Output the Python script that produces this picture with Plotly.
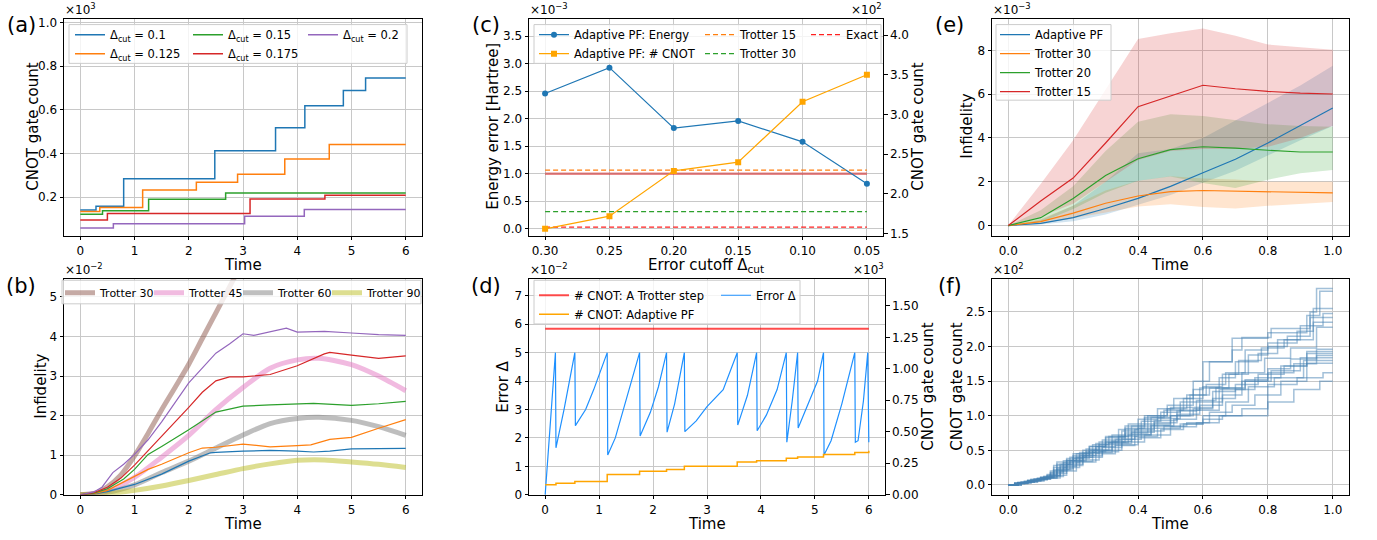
import plotly.graph_objects as go

W, H = 1377, 540
FONT = "DejaVu Sans"


def X(p):
    return p / W


def Y(p):
    return 1 - p / H


TAB = dict(blue='#1f77b4', orange='#ff7f0e', green='#2ca02c', red='#d62728',
           purple='#9467bd', brown='#8c564b', pink='#e377c2', gray='#7f7f7f',
           olive='#bcbd22')

# ---------------- (a) CNOT count vs time for several cutoffs (x10^3) ----------------
a_cutoffs = ["0.1", "0.125", "0.15", "0.175", "0.2"]
a_time = [
    [0, 0.29, 0.8, 2.48, 3.6, 4.14, 4.85, 5.26, 6.0],
    [0, 0.36, 1.15, 2.14, 2.9, 3.77, 4.59, 6.0],
    [0, 0.41, 1.26, 2.68, 6.0],
    [0, 0.5, 3.13, 4.51, 6.0],
    [0, 0.61, 3.03, 4.13, 6.0],
]
a_cnot = [
    [0.141, 0.159, 0.284, 0.413, 0.518, 0.619, 0.689, 0.746, 0.746],
    [0.134, 0.153, 0.233, 0.269, 0.305, 0.375, 0.441, 0.441],
    [0.122, 0.138, 0.191, 0.219, 0.219],
    [0.095, 0.125, 0.192, 0.209, 0.209],
    [0.059, 0.078, 0.113, 0.144, 0.144],
]

# ---------------- (b) infidelity vs time (x10^-2) ----------------
b_trot_names = ["Trotter 30", "Trotter 45", "Trotter 60", "Trotter 90"]
b_trot_time = [
    [0, 0.25, 0.5, 0.75, 1.0, 1.25, 1.5, 1.75, 2.0, 2.25, 2.5, 2.75, 3.0],
    [0, 0.5, 1.0, 1.5, 2.0, 2.5, 3.0, 3.5, 4.0, 4.4, 5.0, 5.5, 6.0],
    [0, 0.5, 1.0, 1.5, 2.0, 2.5, 3.0, 3.5, 4.0, 4.4, 5.0, 5.5, 6.0],
    [0, 0.5, 1.0, 1.5, 2.0, 2.5, 3.0, 3.5, 4.0, 4.5, 5.0, 5.5, 6.0],
]
b_trot_infid = [
    [0, 0.03, 0.2, 0.5, 0.98, 1.55, 2.15, 2.72, 3.3, 3.95, 4.6, 5.25, 5.9],
    [0, 0.1, 0.44, 0.95, 1.5, 2.15, 2.71, 3.2, 3.41, 3.45, 3.29, 3.0, 2.63],
    [0, 0.06, 0.25, 0.56, 0.85, 1.18, 1.51, 1.80, 1.93, 1.96, 1.88, 1.72, 1.50],
    [0, 0.03, 0.11, 0.22, 0.36, 0.51, 0.66, 0.78, 0.87, 0.88, 0.83, 0.77, 0.69],
]
b_adapt_time = [
    [0, 0.25, 0.5, 1.0, 1.5, 2.0, 2.4, 2.5, 3.0, 3.5, 4.0, 4.3, 4.6, 5.0, 6.0],
    [0, 0.25, 0.5, 1.0, 1.25, 1.5, 2.0, 2.25, 2.5, 3.0, 3.5, 4.0, 4.25, 4.6, 5.0, 5.5, 6.0],
    [0, 0.25, 0.5, 0.8, 1.0, 1.25, 1.5, 2.0, 2.5, 3.0, 3.5, 4.0, 4.3, 5.0, 5.5, 6.0],
    [0, 0.25, 0.5, 0.75, 1.0, 1.5, 2.0, 2.25, 2.5, 2.75, 3.0, 3.5, 4.0, 4.5, 4.6, 5.0, 5.5, 6.0],
    [0, 0.25, 0.4, 0.6, 0.8, 1.0, 1.25, 1.5, 2.0, 2.5, 2.75, 3.0, 3.2, 3.5, 3.8, 4.0, 4.5, 5.0, 5.5, 6.0],
]
b_adapt_infid = [
    [0, 0.02, 0.08, 0.26, 0.52, 0.85, 1.06, 1.07, 1.1, 1.12, 1.1, 1.08, 1.1, 1.16, 1.17],
    [0, 0.03, 0.11, 0.45, 0.64, 0.77, 1.06, 1.18, 1.2, 1.28, 1.21, 1.24, 1.26, 1.4, 1.45, 1.68, 1.9],
    [0, 0.04, 0.15, 0.40, 0.64, 1.02, 1.22, 1.64, 2.09, 2.24, 2.27, 2.29, 2.31, 2.26, 2.3, 2.36],
    [0, 0.05, 0.19, 0.42, 0.75, 1.47, 2.21, 2.59, 2.88, 2.98, 2.98, 3.04, 3.26, 3.56, 3.6, 3.53, 3.45, 3.51],
    [0, 0.07, 0.19, 0.56, 0.77, 1.02, 1.39, 1.84, 2.83, 3.58, 3.81, 4.07, 4.03, 4.12, 4.21, 4.11, 4.13, 4.09, 4.05, 4.03],
]

# ---------------- (c) energy error & CNOT vs cutoff ----------------
c_cutoff = [0.30, 0.25, 0.20, 0.15, 0.10, 0.05]
c_energy = [2.46, 2.93, 1.83, 1.96, 1.58, 0.82]        # x10^-3 Hartree
c_cnot = [1.56, 1.72, 2.29, 2.40, 3.16, 3.50]          # x10^2
c_trotter15 = 1.065
c_trotter30 = 0.31
c_exact = 0.03
c_accuracy = 1.0

# ---------------- (d) error and CNOT along time ----------------
d_err_time = [0, 0.1, 0.19,
              0.2, 0.35, 0.55,
              0.56, 0.75, 0.9, 1.15,
              1.16, 1.3, 1.46, 1.6, 1.75,
              1.76, 1.95, 2.1, 2.25,
              2.26, 2.4, 2.58,
              2.59, 2.8, 3.0, 3.3, 3.56,
              3.57, 3.75, 3.92,
              3.93, 4.1, 4.3, 4.47,
              4.48, 4.58, 4.68,
              4.69, 4.9, 5.05, 5.16,
              5.17, 5.3, 5.5, 5.74,
              5.75, 5.8, 5.9, 5.98,
              6.0]
d_err_value = [0, 2.7, 5.0,
               1.65, 3.0, 5.0,
               2.43, 3.0, 3.7, 5.0,
               1.4, 2.0, 3.1, 4.0, 5.0,
               2.07, 2.9, 3.8, 5.0,
               2.2, 3.2, 5.0,
               2.22, 2.6, 3.1, 3.7, 5.0,
               2.45, 3.5, 5.0,
               2.25, 2.8, 3.7, 5.0,
               1.85, 3.3, 5.0,
               2.35, 3.3, 4.0, 5.0,
               1.4, 1.9, 3.2, 5.0,
               1.85, 1.9, 3.3, 5.0,
               1.85]
d_cnot_time = [0, 0.2, 0.55, 1.15, 1.75, 2.25, 2.58, 3.56, 3.92, 4.47, 4.68, 5.16, 5.74, 6.0]
d_cnot_value = [0.080, 0.091, 0.106, 0.161, 0.187, 0.200, 0.226, 0.260, 0.270, 0.290, 0.300, 0.320, 0.335, 0.350]
d_trotter_time = [0, 6]
d_trotter_cnot = [1.318, 1.318]

# ---------------- (e) infidelity with spread (x10^-3) ----------------
e_time = [0, 0.1, 0.2, 0.3, 0.4, 0.5, 0.6, 0.7, 0.8, 0.9, 1.0]
e_names = ["Adaptive PF", "Trotter 30", "Trotter 20", "Trotter 15"]
e_mean = [
    [0, 0.10, 0.36, 0.78, 1.24, 1.79, 2.41, 3.03, 3.77, 4.56, 5.37],
    [0, 0.18, 0.57, 1.02, 1.35, 1.55, 1.60, 1.57, 1.52, 1.49, 1.49],
    [0, 0.36, 1.24, 2.29, 3.05, 3.47, 3.60, 3.54, 3.44, 3.36, 3.36],
    [0, 1.12, 2.17, 3.77, 5.43, 5.93, 6.41, 6.25, 6.13, 6.05, 6.01],
]
e_low = [
    [0, 0.05, 0.20, 0.50, 0.95, 1.40, 1.95, 2.50, 3.20, 3.90, 4.55],
    [0, 0.08, 0.35, 0.60, 0.87, 0.97, 0.85, 0.78, 0.90, 1.00, 1.08],
    [0, 0.15, 0.75, 1.50, 2.05, 2.24, 1.94, 1.72, 2.09, 2.39, 2.54],
    [0, 0.40, 1.00, 2.00, 3.00, 3.40, 3.50, 3.50, 3.60, 4.00, 4.56],
]
e_high = [
    [0, 0.25, 0.90, 2.00, 3.30, 3.50, 4.00, 4.80, 5.60, 6.40, 7.30],
    [0, 0.30, 0.90, 1.60, 2.05, 2.25, 2.15, 2.10, 2.00, 2.00, 2.00],
    [0, 0.70, 1.80, 3.40, 4.74, 5.08, 5.00, 4.80, 4.63, 4.55, 4.51],
    [0, 1.90, 3.90, 6.20, 8.52, 8.79, 9.00, 8.67, 8.27, 8.15, 8.03],
]

# ---------------- (f) CNOT count trajectories (x10^2) ----------------
f_times = [
    [0, 0.03, 0.06, 0.09, 0.12, 0.15, 0.2, 0.25, 0.3, 0.36, 0.42, 0.49, 0.57, 0.6, 0.69, 0.72, 0.81, 0.93, 0.95, 1.0],
    [0, 0.02, 0.05, 0.08, 0.11, 0.14, 0.18, 0.23, 0.28, 0.34, 0.4, 0.46, 0.51, 0.57, 0.62, 0.69, 0.8, 0.92, 0.96, 1.0],
    [0, 0.03, 0.07, 0.1, 0.13, 0.17, 0.21, 0.26, 0.31, 0.37, 0.43, 0.49, 0.55, 0.61, 0.67, 0.73, 0.8, 0.89, 0.94, 1.0],
    [0, 0.04, 0.08, 0.12, 0.16, 0.19, 0.24, 0.29, 0.35, 0.41, 0.47, 0.53, 0.59, 0.65, 0.7, 0.77, 0.83, 0.9, 0.97, 1.0],
    [0, 0.02, 0.06, 0.1, 0.14, 0.18, 0.22, 0.27, 0.32, 0.38, 0.44, 0.5, 0.56, 0.62, 0.68, 0.74, 0.8, 0.86, 0.93, 1.0],
    [0, 0.03, 0.07, 0.11, 0.15, 0.2, 0.25, 0.3, 0.36, 0.42, 0.48, 0.54, 0.6, 0.66, 0.71, 0.78, 0.85, 0.94, 1.0],
    [0, 0.02, 0.05, 0.09, 0.13, 0.17, 0.22, 0.27, 0.33, 0.39, 0.45, 0.52, 0.58, 0.64, 0.72, 0.79, 0.87, 0.95, 1.0],
    [0, 0.03, 0.06, 0.1, 0.14, 0.19, 0.24, 0.3, 0.36, 0.43, 0.5, 0.57, 0.63, 0.7, 0.77, 0.85, 0.92, 1.0],
    [0, 0.04, 0.08, 0.12, 0.16, 0.21, 0.26, 0.32, 0.38, 0.45, 0.52, 0.59, 0.66, 0.72, 0.8, 0.88, 0.95, 1.0],
    [0, 0.02, 0.06, 0.1, 0.15, 0.2, 0.25, 0.31, 0.37, 0.44, 0.51, 0.58, 0.65, 0.73, 0.81, 0.9, 1.0],
    [0, 0.03, 0.07, 0.11, 0.16, 0.21, 0.27, 0.33, 0.39, 0.46, 0.53, 0.6, 0.67, 0.74, 0.82, 0.91, 1.0],
    [0, 0.02, 0.05, 0.09, 0.13, 0.18, 0.23, 0.29, 0.35, 0.41, 0.48, 0.55, 0.62, 0.69, 0.76, 0.84, 0.92, 1.0],
    [0, 0.03, 0.07, 0.12, 0.17, 0.22, 0.28, 0.34, 0.4, 0.47, 0.54, 0.6, 0.66, 0.8, 0.89, 0.97, 1.0],
    [0, 0.04, 0.09, 0.13, 0.18, 0.23, 0.29, 0.35, 0.42, 0.5, 0.58, 0.65, 0.72, 0.8, 0.88, 0.96, 1.0],
    [0, 0.02, 0.06, 0.11, 0.15, 0.2, 0.26, 0.32, 0.38, 0.44, 0.5, 0.56, 0.63, 0.7, 0.76, 0.84, 0.92, 1.0],
    [0, 0.03, 0.06, 0.1, 0.14, 0.18, 0.23, 0.28, 0.34, 0.4, 0.46, 0.53, 0.59, 0.66, 0.73, 0.8, 0.87, 0.95, 1.0],
]
f_counts = [
    [0, 0.03, 0.06, 0.1, 0.15, 0.3, 0.42, 0.55, 0.68, 0.85, 1.0, 1.15, 1.38, 1.78, 1.95, 2.13, 2.26, 2.5, 2.84, 2.84],
    [0, 0.02, 0.05, 0.08, 0.12, 0.28, 0.38, 0.5, 0.62, 0.8, 0.95, 1.1, 1.25, 1.5, 1.78, 2.12, 2.2, 2.45, 2.8, 2.8],
    [0, 0.03, 0.07, 0.1, 0.2, 0.35, 0.45, 0.58, 0.7, 0.88, 1.0, 1.1, 1.3, 1.45, 1.62, 1.95, 2.05, 2.22, 2.55, 2.55],
    [0, 0.04, 0.08, 0.14, 0.3, 0.4, 0.52, 0.65, 0.78, 0.92, 1.05, 1.2, 1.4, 1.55, 1.78, 1.9, 2.1, 2.3, 2.48, 2.48],
    [0, 0.03, 0.06, 0.11, 0.25, 0.36, 0.47, 0.6, 0.72, 0.85, 0.98, 1.12, 1.3, 1.4, 1.6, 1.88, 2.0, 2.15, 2.42, 2.42],
    [0, 0.04, 0.08, 0.12, 0.33, 0.45, 0.56, 0.7, 0.82, 0.97, 1.08, 1.25, 1.42, 1.6, 1.8, 1.98, 2.1, 2.35, 2.35],
    [0, 0.02, 0.05, 0.09, 0.18, 0.32, 0.43, 0.55, 0.66, 0.8, 0.93, 1.07, 1.22, 1.4, 1.62, 1.83, 1.98, 2.28, 2.28],
    [0, 0.03, 0.07, 0.11, 0.22, 0.35, 0.48, 0.62, 0.75, 0.88, 1.0, 1.1, 1.35, 1.45, 1.6, 1.72, 1.93, 1.93],
    [0, 0.04, 0.08, 0.13, 0.27, 0.4, 0.5, 0.63, 0.76, 0.9, 1.02, 1.15, 1.3, 1.5, 1.62, 1.75, 1.87, 1.87],
    [0, 0.02, 0.06, 0.1, 0.24, 0.38, 0.5, 0.61, 0.72, 0.85, 0.95, 1.08, 1.38, 1.5, 1.65, 1.84, 1.84],
    [0, 0.03, 0.06, 0.1, 0.2, 0.33, 0.45, 0.57, 0.7, 0.82, 0.88, 1.0, 1.2, 1.42, 1.55, 1.8, 1.8],
    [0, 0.02, 0.05, 0.09, 0.17, 0.3, 0.42, 0.54, 0.66, 0.78, 0.85, 0.9, 1.05, 1.15, 1.3, 1.5, 1.76, 1.76],
    [0, 0.03, 0.07, 0.12, 0.25, 0.36, 0.48, 0.58, 0.68, 0.8, 0.88, 0.95, 1.0, 1.45, 1.55, 1.62, 1.62],
    [0, 0.04, 0.08, 0.14, 0.28, 0.4, 0.5, 0.62, 0.72, 0.84, 0.9, 1.0, 1.1, 1.2, 1.38, 1.5, 1.5],
    [0, 0.02, 0.06, 0.1, 0.22, 0.34, 0.47, 0.6, 0.73, 0.86, 1.0, 1.12, 1.25, 1.38, 1.55, 1.72, 1.9, 1.9],
    [0, 0.03, 0.06, 0.1, 0.2, 0.35, 0.46, 0.58, 0.7, 0.82, 0.96, 1.08, 1.2, 1.4, 1.52, 1.68, 1.82, 1.96, 1.96],
]

fig = go.Figure()

# ---- (a)
a_colors = [TAB['blue'], TAB['orange'], TAB['green'], TAB['red'], TAB['purple']]
a_legends = ['legend', 'legend', 'legend2', 'legend2', 'legend3']
for lab, t, v, c, lg in zip(a_cutoffs, a_time, a_cnot, a_colors, a_legends):
    fig.add_trace(go.Scatter(x=t, y=v, mode='lines', name=f'Δ<sub>cut</sub> = {lab}',
                             line=dict(color=c, width=1.5, shape='hv'),
                             legend=lg, xaxis='x', yaxis='y'))

# ---- (b)
b_trot_colors = [TAB['brown'], TAB['pink'], TAB['gray'], TAB['olive']]
b_legwidth = [44, 44, 44, 70]
for n, t, v, c, lw in zip(b_trot_names, b_trot_time, b_trot_infid, b_trot_colors, b_legwidth):
    fig.add_trace(go.Scatter(x=t, y=v, mode='lines', name=n, opacity=0.5,
                             line=dict(color=c, width=5, shape='spline', smoothing=0.8),
                             legend='legend4', legendwidth=lw, xaxis='x2', yaxis='y2'))
for t, v, c in zip(b_adapt_time, b_adapt_infid, a_colors):
    fig.add_trace(go.Scatter(x=t, y=v, mode='lines', showlegend=False,
                             line=dict(color=c, width=1.2),
                             xaxis='x2', yaxis='y2'))

# ---- (c)
n_c = len(c_cutoff)
fig.add_trace(go.Scatter(x=c_cutoff, y=[c_accuracy] * n_c, mode='lines', showlegend=False,
                         line=dict(color='rgba(214,39,40,0.55)', width=2.5),
                         xaxis='x3', yaxis='y3'))
fig.add_trace(go.Scatter(x=c_cutoff, y=c_energy, mode='lines+markers', name='Adaptive PF: Energy',
                         line=dict(color=TAB['blue'], width=1.2),
                         marker=dict(symbol='circle', size=6, color=TAB['blue']),
                         legend='legend5', xaxis='x3', yaxis='y3'))
fig.add_trace(go.Scatter(x=c_cutoff, y=[c_trotter15] * n_c, mode='lines', name='Trotter 15',
                         line=dict(color=TAB['orange'], width=1.2, dash='5px,3px'),
                         legend='legend6', xaxis='x3', yaxis='y3'))
fig.add_trace(go.Scatter(x=c_cutoff, y=[c_trotter30] * n_c, mode='lines', name='Trotter 30',
                         line=dict(color=TAB['green'], width=1.2, dash='5px,3px'),
                         legend='legend6', xaxis='x3', yaxis='y3'))
fig.add_trace(go.Scatter(x=c_cutoff, y=[c_exact] * n_c, mode='lines', name='Exact',
                         line=dict(color='#ff2020', width=1.2, dash='5px,3px'),
                         legend='legend7', xaxis='x3', yaxis='y3'))
fig.add_trace(go.Scatter(x=c_cutoff, y=c_cnot, mode='lines+markers', name='Adaptive PF: # CNOT',
                         line=dict(color='#ffa500', width=1.2),
                         marker=dict(symbol='square', size=6, color='#ffa500'),
                         legend='legend5', xaxis='x3', yaxis='y4'))

# ---- (d)
fig.add_trace(go.Scatter(x=d_err_time, y=d_err_value, mode='lines', name='Error Δ',
                         line=dict(color='#1e90ff', width=1.2),
                         legend='legend9', xaxis='x4', yaxis='y5'))
fig.add_trace(go.Scatter(x=d_trotter_time, y=d_trotter_cnot, mode='lines', name='# CNOT: A Trotter step',
                         line=dict(color='rgba(255,0,0,0.7)', width=2),
                         legend='legend8', xaxis='x4', yaxis='y6'))
fig.add_trace(go.Scatter(x=d_cnot_time, y=d_cnot_value, mode='lines', name='# CNOT: Adaptive PF',
                         line=dict(color='#ffa500', width=1.5, shape='hv'),
                         legend='legend8', xaxis='x4', yaxis='y6'))

# ---- (e)
e_colors = [TAB['blue'], TAB['orange'], TAB['green'], TAB['red']]
e_fill = ['rgba(31,119,180,0.2)', 'rgba(255,127,14,0.2)', 'rgba(44,160,44,0.2)', 'rgba(214,39,40,0.2)']
for lo, hi, fc in zip(e_low, e_high, e_fill):
    fig.add_trace(go.Scatter(x=e_time + e_time[::-1], y=hi + lo[::-1], mode='lines',
                             fill='toself', fillcolor=fc, line=dict(width=0),
                             showlegend=False, hoverinfo='skip', xaxis='x5', yaxis='y7'))
for n, m, c in zip(e_names, e_mean, e_colors):
    fig.add_trace(go.Scatter(x=e_time, y=m, mode='lines', name=n,
                             line=dict(color=c, width=1.2),
                             legend='legend10', xaxis='x5', yaxis='y7'))

# ---- (f)
for t, v in zip(f_times, f_counts):
    fig.add_trace(go.Scatter(x=t, y=v, mode='lines', showlegend=False,
                             line=dict(color='rgba(70,130,180,0.5)', width=1.5, shape='hv'),
                             xaxis='x6', yaxis='y8'))


# ---------------- layout ----------------
def ax(domain, rng, **kw):
    d = dict(domain=domain, range=rng, autorange=False, showline=True, linecolor='black',
             linewidth=1, mirror=True, ticks='outside', ticklen=3.5, tickwidth=1,
             tickcolor='black', showgrid=True, gridcolor='#c8c8c8', gridwidth=1,
             zeroline=False, tickfont=dict(family=FONT, size=12, color='black'))
    d.update(kw)
    return d


TOP = [Y(237), Y(16)]
BOT = [Y(501), Y(281)]
COL1 = [X(64), X(422)]
COL2 = [X(529), X(883)]
COL2B = [X(529), X(885)]
COL3 = [X(992), X(1349)]

layout_axes = dict(
    xaxis=ax(COL1, [-0.3, 6.3], dtick=1, tick0=0, anchor='y'),
    yaxis=ax(TOP, [0.024, 1.018], dtick=0.2, tick0=0, tickformat='.1f', anchor='x'),
    xaxis2=ax(COL1, [-0.3, 6.3], dtick=1, tick0=0, anchor='y2'),
    yaxis2=ax(BOT, [0, 5.46], dtick=1, tick0=0, anchor='x2'),
    xaxis3=ax(COL2, [0.3125, 0.0375], tickvals=c_cutoff, tickformat='.2f', anchor='y3'),
    yaxis3=ax(TOP, [-0.125, 3.82], dtick=0.5, tick0=0, tickformat='.1f', anchor='x3'),
    yaxis4=ax(TOP, [1.475, 4.206], dtick=0.5, tick0=0, tickformat='.1f', anchor='x3',
              overlaying='y3', side='right', showgrid=False, showline=False, mirror=False),
    xaxis4=ax(COL2B, [-0.3, 6.3], dtick=1, tick0=0, anchor='y5'),
    yaxis5=ax(BOT, [0, 7.6], dtick=1, tick0=0, anchor='x4'),
    yaxis6=ax(BOT, [0, 1.715], dtick=0.25, tick0=0, tickformat='.2f', anchor='x4',
              overlaying='y5', side='right', showgrid=False, showline=False, mirror=False),
    xaxis5=ax(COL3, [-0.05, 1.05], dtick=0.2, tick0=0, tickformat='.1f', anchor='y7'),
    yaxis7=ax(TOP, [-0.46, 9.45], dtick=2, tick0=0, anchor='x5'),
    xaxis6=ax(COL3, [-0.05, 1.05], dtick=0.2, tick0=0, tickformat='.1f', anchor='y8'),
    yaxis8=ax(BOT, [-0.142, 2.98], dtick=0.5, tick0=0, tickformat='.1f', anchor='x6'),
)


def leg(x, y, size=11.5, **kw):
    d = dict(x=X(x), y=Y(y), xanchor='left', yanchor='top', xref='paper', yref='paper',
             bgcolor='rgba(0,0,0,0)', borderwidth=0, orientation='v', tracegroupgap=0,
             font=dict(family=FONT, size=size, color='black'))
    d.update(kw)
    return d


legends = dict(
    legend=leg(70, 17.5), legend2=leg(188, 17.5), legend3=leg(303, 17.5),
    legend4=leg(60, 280.5, size=11, orientation='h', entrywidth=44, entrywidthmode='pixels'),
    legend5=leg(534, 17.5), legend6=leg(700, 17.5), legend7=leg(806, 17.5),
    legend8=leg(534, 283), legend9=leg(716, 283),
    legend10=leg(995, 17.5),
)


def box(x0, y0, x1, y1):
    return dict(type='rect', xref='paper', yref='paper', x0=X(x0), x1=X(x1), y0=Y(y1), y1=Y(y0),
                line=dict(color='#cccccc', width=1), fillcolor='rgba(255,255,255,0.8)', layer='above')


shapes = [box(69, 22, 407, 61.5), box(62, 282.5, 421, 306.5), box(534, 22, 881, 61.5),
          box(534, 282.5, 800, 327), box(996, 22, 1111, 99)]

ann = []


def text(s, x, y, size, xanchor='center', yanchor='middle', angle=0):
    ann.append(dict(text=s, x=X(x), y=Y(y), xref='paper', yref='paper', showarrow=False,
                    xanchor=xanchor, yanchor=yanchor, textangle=angle, borderpad=0,
                    font=dict(family=FONT, size=size, color='black')))


# panel labels
for lab, x, y in [("(a)", 21, 22), ("(b)", 21, 288), ("(c)", 486, 22), ("(d)", 486, 288),
                  ("(e)", 949, 22), ("(f)", 950, 288)]:
    text(lab, x, y, 21)
# multipliers
text("×10<sup>3</sup>", 64, 15, 12, xanchor='left', yanchor='bottom')
text("×10<sup>−2</sup>", 64, 280, 12, xanchor='left', yanchor='bottom')
text("×10<sup>−3</sup>", 529, 15, 12, xanchor='left', yanchor='bottom')
text("×10<sup>2</sup>", 883, 15, 12, xanchor='right', yanchor='bottom')
text("×10<sup>−2</sup>", 529, 280, 12, xanchor='left', yanchor='bottom')
text("×10<sup>3</sup>", 885, 280, 12, xanchor='right', yanchor='bottom')
text("×10<sup>−3</sup>", 992, 15, 12, xanchor='left', yanchor='bottom')
text("×10<sup>2</sup>", 992, 280, 12, xanchor='left', yanchor='bottom')
# axis titles
for s, x, y in [("CNOT gate count", 33, 126), ("Infidelity", 41, 391),
                ("Energy error [Hartree]", 493, 126), ("CNOT gate count", 918, 126),
                ("Error Δ", 503, 391), ("CNOT gate count", 928, 391),
                ("Infidelity", 967, 126), ("CNOT gate count", 957, 391)]:
    text(s, x, y, 15, angle=-90)
for s, x, y in [("Time", 243, 266.5), ("Time", 243, 531), ("Error cutoff Δ<sub>cut</sub>", 706, 267),
                ("Time", 707, 531), ("Time", 1170, 266.5), ("Time", 1170, 531)]:
    text(s, x, y, 15)

fig.update_layout(
    width=W, height=H, autosize=False, margin=dict(l=0, r=0, t=0, b=0),
    paper_bgcolor='white', plot_bgcolor='white',
    font=dict(family=FONT, size=12, color='black'),
    shapes=shapes, annotations=ann, hovermode=False,
    **layout_axes, **legends,
)

fig.write_html("out.html", config={'displayModeBar': False},
               post_script="document.body.style.margin='0px';document.body.style.overflow='hidden';")
